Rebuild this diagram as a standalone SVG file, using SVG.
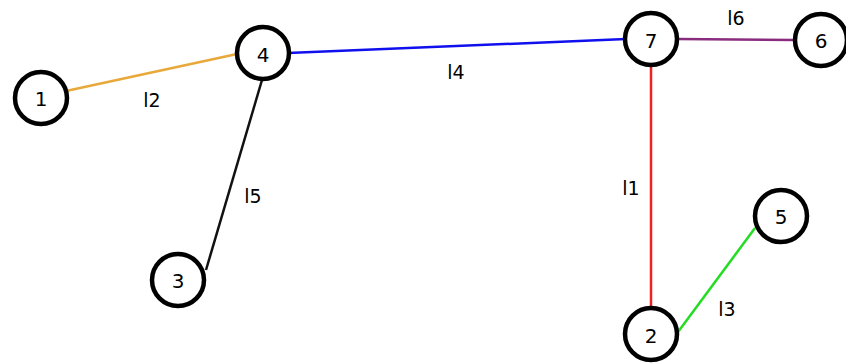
<svg xmlns="http://www.w3.org/2000/svg" width="846" height="364" viewBox="0 0 846 364">
<style>
.node circle{fill:#fff;stroke:#000;stroke-width:4.5}
text{font-family:"DejaVu Sans","Liberation Sans",sans-serif;fill:#000;text-anchor:middle;dominant-baseline:central}
.node text{font-size:20px}
.lbl{font-size:19px}
.edge{stroke-width:2.5;fill:none}
</style>
<rect width="846" height="364" fill="#fff"/>
<g id="edges">
<line class="edge" x1="66" y1="91" x2="237" y2="54" stroke="#E8A83A"/>
<line class="edge" x1="288" y1="53" x2="626" y2="39" stroke="#1010EE"/>
<line class="edge" x1="262" y1="80" x2="206" y2="270" stroke="#111"/>
<line class="edge" x1="677" y1="39" x2="795" y2="40" stroke="#8A2C7E"/>
<line class="edge" x1="651" y1="65" x2="651" y2="308" stroke="#EE2222"/>
<line class="edge" x1="678" y1="332" x2="755" y2="228" stroke="#22DD22"/>
<text class="lbl" x="152" y="100">l2</text>
<text class="lbl" x="456" y="72">l4</text>
<text class="lbl" x="253" y="196">l5</text>
<text class="lbl" x="736" y="18">l6</text>
<text class="lbl" x="631" y="188">l1</text>
<text class="lbl" x="727" y="309">l3</text>
</g>
<g id="n1" class="node"><circle cx="41" cy="98" r="26"/><text x="41" y="99">1</text></g>
<g id="n4" class="node"><circle cx="263" cy="53" r="26"/><text x="263" y="55">4</text></g>
<g id="n7" class="node"><circle cx="651" cy="39" r="26"/><text x="651" y="41">7</text></g>
<g id="n6" class="node"><circle cx="821" cy="40" r="26"/><text x="821" y="41">6</text></g>
<g id="n3" class="node"><circle cx="178" cy="280" r="26"/><text x="178" y="281">3</text></g>
<g id="n5" class="node"><circle cx="781" cy="216" r="26"/><text x="781" y="217">5</text></g>
<g id="n2" class="node"><circle cx="651" cy="334" r="26"/><text x="651" y="336">2</text></g>
</svg>
